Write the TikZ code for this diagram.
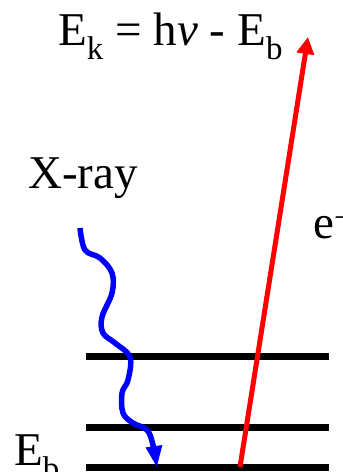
\documentclass[tikz,border=0pt]{standalone}
\usepackage{fontspec}
\setmainfont{LiberationSerif}[Extension=.ttf, UprightFont=*-Regular, ItalicFont=*-Italic, BoldFont=*-Bold]
\usetikzlibrary{arrows.meta}
\tikzset{
  lbl/.style={inner sep=0pt, anchor=base west, font=\rmfamily\fontsize{47}{50}\selectfont},
  level/.style={line width=7pt, black},
  electron/.style={line width=5pt, red, -{Triangle[length=17pt,width=17pt]}},
  xray/.style={line width=5.5pt, blue, line join=round, -{Triangle[length=22pt,width=15pt]}}
}
\begin{document}
\begin{tikzpicture}[x=1pt,y=-1pt]
\useasboundingbox (0,0) rectangle (343,472);
\path node[lbl] (Ek) at (58,45) {E\textsubscript{k} = h\textit{ν} - E\textsubscript{b}}
node[lbl] (Xray) at (28,188) {X-ray}
node[lbl] (el) at (313,238) {e\textsuperscript{−}}
node[lbl] (Eb) at (14,465) {E\textsubscript{b}}
;
\coordinate (L1a) at (86,356);
\coordinate (L1b) at (329,356);
\coordinate (L2a) at (86,427);
\coordinate (L2b) at (329,427);
\coordinate (L3a) at (86,467);
\coordinate (L3b) at (329,467);
\coordinate (eout) at (240,467);
\coordinate (etip) at (308,37);
\coordinate (xin) at (80,228);
\coordinate (xhit) at (157,468);
\draw[level] (L1a) -- (L1b);
\draw[level] (L2a) -- (L2b);
\draw[level] (L3a) -- (L3b);
\draw[electron] (eout) -- (etip);
\draw[xray] plot[smooth, tension=0.6] coordinates {(xin) (85,250) (100,258) (112,273) (112,293) (102,317) (103,333) (115,343) (130,357) (128,380) (122,393) (123,413) (133,423) (147,430) (153,445) (xhit)};
\end{tikzpicture}
\end{document}
